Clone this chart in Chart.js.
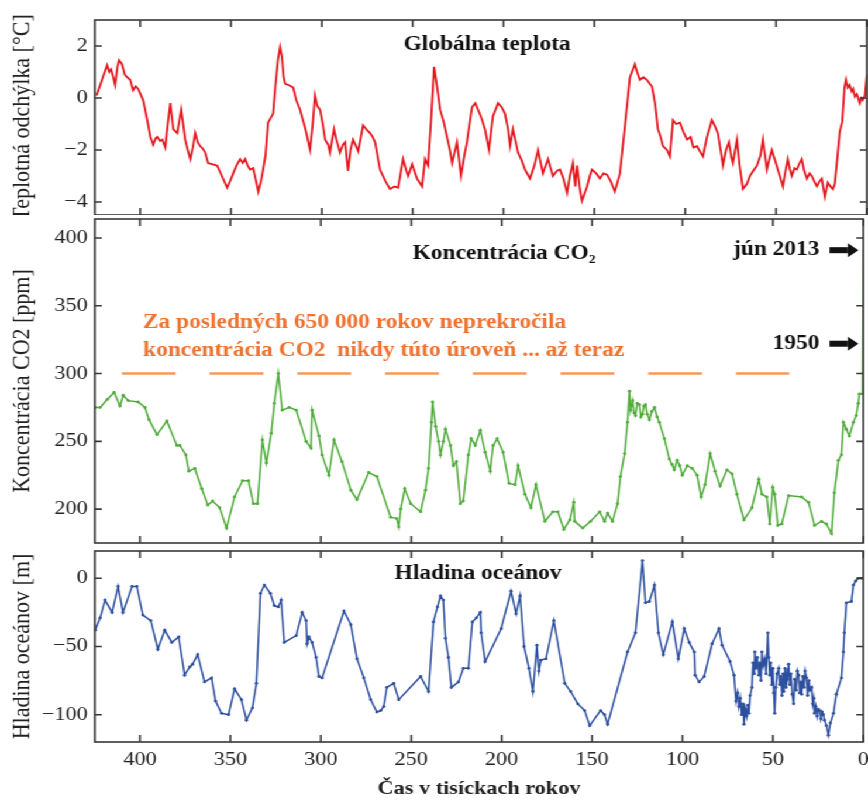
<!DOCTYPE html>
<html lang="sk">
<head>
<meta charset="utf-8">
<title>Teplota, CO2 a hladina oceánov</title>
<script src="https://cdn.jsdelivr.net/npm/chart.js@4.4.1/dist/chart.umd.min.js"></script>
<style>
  html, body { margin: 0; padding: 0; background: #fff; overflow: hidden; }
  /* the source picture is stretched sideways, so draw narrow and widen */
  #wrap { position: absolute; left: 0; top: 0; width: 742px; height: 801px;
          transform: scaleX(1.1698); transform-origin: 0 0; }
  #wrap canvas { position: absolute; left: 0; }
</style>
</head>
<body>
<div id="wrap">
  <canvas id="temp" width="742" height="215" style="top:0"></canvas>
  <canvas id="co2" width="742" height="332" style="top:215px"></canvas>
  <canvas id="sea" width="742" height="254" style="top:547px"></canvas>
</div>
<script>
const timeTicks = [400, 350, 300, 250, 200, 150, 100, 50, 0];
const tempTicks = [-4, -2, 0, 2];
const co2Ticks = [200, 250, 300, 350, 400];
const seaTicks = [-100, -50, 0];

// time in thousands of years before present
const tempKyr = [424, 422, 420, 418.2, 417, 416, 415, 413.8, 412.5, 411.6, 410, 408.5, 407.2, 405.5, 403.9, 402.5, 401.1, 399.5, 398.3, 396.1,
  394.4, 392.8, 391.5, 390.6, 389, 387.8, 386.2, 384.8, 383.4, 381.8, 379.6, 377.4, 375.2, 373.8, 372.4, 371, 369.7, 368.3, 367, 365.5,
  364.2, 362.6, 360, 357.6, 355, 352.1, 350.5, 348.8, 347, 345, 343.5, 342.2, 340.8, 339.5, 337.8, 336.5, 335, 333.5, 332.3, 331,
  329.6, 326.8, 325.5, 324.1, 323, 322, 321, 320.2, 318.5, 317, 315.8, 314, 312, 309, 306.5, 305, 303.8, 302.5, 301, 299.5,
  298.2, 296.5, 295.5, 293.3, 292, 290, 288.5, 287.2, 285.6, 284.2, 282.8, 281.5, 280, 278.5, 277.3, 275.5, 273.5, 272, 270.7, 268,
  265, 262.5, 260, 258, 255.3, 253.5, 252.5, 250.3, 247.6, 244.8, 243.2, 241.5, 240, 238.2, 236.5, 234.9, 233, 231.1, 229.5, 228.3,
  225.6, 223.4, 221.5, 220.1, 218.5, 217.3, 215.5, 214, 212, 210.2, 208, 205.8, 203, 201, 199.2, 197.5, 196.4, 194.8, 192, 190,
  188.2, 185.4, 183, 181, 179.5, 178.3, 175.5, 172.8, 170.5, 168.9, 167, 165, 163.5, 161.8, 160.5, 159.5, 158, 156.8, 155.5, 154,
  152.5, 151.3, 149, 146.9, 145, 143, 141, 138.7, 135.9, 133.2, 130.4, 127.7, 126, 124.9, 123, 121.1, 119.5, 118.3, 116.6, 115,
  113.5, 112.2, 110, 108.4, 106.7, 105, 102.9, 101, 99, 97, 95.5, 93.5, 91.5, 90.2, 88, 85.3, 83.5, 82, 80.5, 79.2,
  77.5, 75.9, 74.5, 73.7, 71.5, 70, 68.2, 66, 64.4, 62.5, 60.5, 58.5, 57.2, 55, 53.5, 52.3, 50.5, 49, 47.5, 46.2,
  45, 43.5, 42.5, 41.3, 39.8, 38.5, 37, 35.8, 34.5, 33, 31.5, 30.3, 29, 27.5, 26, 24.8, 23.1, 21.5, 20, 18.7,
  17.6, 16.5, 14.9, 13.5, 12.3, 11.5, 10.5, 9.5, 8.3, 7.5, 6.6, 5.5, 3.9, 3, 2.2, 1, 0];
const tempC = [0.1, 0.5, 0.9, 1.26, 1.0, 1.1, 0.85, 0.5, 1.2, 1.45, 1.3, 0.9, 0.8, 0.7, 0.3, 0.45, 0.35, 0.1, -0.1, -0.85,
  -1.5, -1.8, -1.55, -1.5, -1.65, -1.6, -1.9, -1.0, -0.2, -1.2, -1.35, -0.45, -1.6, -2.0, -2.35, -1.9, -1.35, -1.7, -1.85, -1.95,
  -2.1, -2.5, -2.55, -2.6, -3.0, -3.45, -3.2, -2.9, -2.6, -2.35, -2.5, -2.35, -2.6, -2.75, -2.7, -3.1, -3.6, -3.2, -2.75, -2.2,
  -0.95, -0.6, 0.5, 1.5, 1.95, 1.6, 0.8, 0.55, 0.5, 0.45, 0.4, -0.1, -0.45, -1.2, -2.0, -1.0, 0.1, -0.3, -0.45, -1.0,
  -1.6, -1.8, -2.1, -1.2, -1.6, -2.1, -1.8, -1.7, -2.8, -2.0, -1.6, -1.8, -2.05, -1.5, -1.05, -1.2, -1.35, -1.5, -1.7, -2.75,
  -3.2, -3.5, -3.4, -3.45, -2.35, -2.8, -3.0, -2.55, -3.1, -3.4, -2.35, -2.6, -1.0, 1.2, 0.4, -0.45, -0.9, -1.5, -2.0, -2.5,
  -1.7, -3.0, -2.2, -1.7, -0.9, -0.35, -0.2, -0.45, -0.8, -1.2, -2.0, -0.7, -0.2, -0.35, -0.6, -1.2, -1.85, -1.2, -2.1, -2.4,
  -2.75, -3.1, -2.6, -2.0, -2.5, -2.9, -2.35, -3.0, -2.8, -2.75, -3.1, -3.65, -3.0, -2.5, -3.4, -2.6, -3.5, -3.95, -3.7, -3.4,
  -3.0, -2.75, -2.9, -3.1, -2.9, -2.95, -3.2, -3.6, -2.9, -1.1, 0.8, 1.3, 0.9, 0.7, 0.8, 0.7, 0.55, 0.45, -0.2, -1.2,
  -1.5, -1.85, -2.0, -2.25, -0.85, -1.0, -0.95, -1.3, -1.6, -1.5, -1.9, -1.85, -2.1, -2.25, -1.5, -0.85, -1.1, -1.35, -2.0, -2.6,
  -2.0, -1.7, -2.3, -2.5, -1.6, -2.6, -3.5, -3.3, -3.0, -2.8, -2.6, -2.2, -1.6, -2.75, -2.3, -2.0, -2.4, -2.75, -3.1, -3.4,
  -2.9, -2.35, -2.7, -3.0, -2.7, -2.75, -2.5, -2.35, -2.8, -3.1, -2.9, -3.0, -3.2, -3.4, -3.2, -3.1, -3.8, -3.25, -3.4, -3.5,
  -3.3, -2.5, -1.3, -0.9, 0.4, 0.7, 0.4, 0.5, 0.25, 0.35, 0.05, 0.15, -0.2, 0.0, -0.08, 0.1, 0.88];

const co2Kyr = [424.8, 422, 418, 414.3, 411, 409.3, 406.5, 401, 397.2, 395, 390.6, 385.1, 379.6, 377.9, 374.6, 373, 369.7, 365.8, 362.5, 359.8,
  355.9, 352.1, 347.7, 343.3, 340, 337.3, 335, 332.3, 330.1, 327.4, 325.7, 323.5, 321.3, 317.5, 313.6, 308.1, 305.4, 304.8, 301, 299.3,
  295.5, 292.7, 288.3, 283.4, 280, 273.5, 269, 261.4, 258, 256.9, 255.8, 253.6, 250.3, 244.8, 242.1, 240.4, 238.8, 238.2, 236.5, 234.9,
  233.8, 232.2, 231.1, 228.3, 226.7, 225, 222.8, 221.2, 218.4, 216.8, 214.6, 211.8, 209.1, 206.3, 204.7, 202.5, 199.2, 195.9, 192.6, 190.9,
  187.1, 183.8, 181, 176.1, 171.7, 168.9, 165.6, 162.3, 160.1, 159.6, 155.2, 150.8, 145.8, 143.1, 141.4, 138.7, 135.9, 134.3, 132, 130.4,
  129.3, 128.7, 127.6, 126.8, 126, 125, 123.8, 123, 122.1, 121.3, 120.5, 119.5, 118.3, 117, 115.5, 114, 112.8, 110, 107.3, 105.8,
  104.5, 102.9, 101.5, 100.1, 97.4, 94.6, 91.9, 89.7, 87.5, 84.7, 82, 79.2, 75.4, 72.6, 69.9, 66, 61.6, 57.8, 56.1, 53.4,
  51.7, 50.1, 49, 47.3, 45.1, 41.3, 34.1, 30.3, 27, 23.1, 20.4, 17.6, 16, 13.8, 12.1, 11, 9.4, 7.7, 5.5, 3.9,
  2.8, 2.2, 0.4, 0];
const co2Ppm = [275, 275, 281, 286, 276, 284, 280, 279, 275, 266, 255, 265, 247, 247, 240, 228, 230, 215, 203, 206,
  201, 186, 209, 221, 221, 204, 204, 251, 234, 256, 278, 300, 273, 275, 273, 250, 245, 273, 254, 240,
  225, 251, 235, 214, 207, 227, 224, 194, 193, 187, 200, 215, 204, 198, 214, 230, 264, 279, 261, 250,
  240, 250, 259, 247, 232, 235, 204, 206, 240, 252, 247, 258, 242, 228, 247, 252, 242, 219, 218, 232,
  211, 201, 218, 191, 198, 198, 185, 192, 205, 191, 186, 191, 198, 191, 197, 191, 204, 224, 241, 264,
  287, 273, 280, 271, 269, 278, 277, 268, 270, 276, 277, 270, 266, 272, 275, 268, 264, 252, 237, 233,
  229, 236, 232, 225, 232, 230, 225, 209, 218, 241, 228, 217, 229, 226, 211, 192, 201, 222, 211, 209,
  189, 216, 211, 188, 189, 210, 209, 205, 188, 191, 189, 182, 212, 236, 240, 264, 259, 254, 264, 269,
  278, 285, 285, 391];

const seaKyr = [424.8, 422, 419.3, 415.4, 412.1, 409.4, 404.4, 401.7, 398.4, 394, 390.1, 386.3, 382.4, 378.6, 375.3, 372.5, 370.9, 368.1, 364.3, 360.4,
  358.2, 354.9, 351, 347.7, 343.9, 341.1, 337.8, 335.6, 333.4, 331.2, 327.9, 325.7, 323.5, 321.9, 320.2, 313.6, 310.3, 308.1, 307.6, 306.5,
  304.8, 302.6, 301, 299.3, 287.2, 283.4, 280, 276.2, 272.4, 269, 266.9, 265.2, 263.5, 259.7, 256.9, 244.8, 240.4, 237.7, 235.5, 233.8,
  232.2, 231.1, 229.4, 227.8, 223.9, 221.2, 218.4, 216.2, 214, 211.8, 211.3, 209.1, 200.3, 194.8, 192, 189.8, 187.6, 184.9, 182.7, 180.5,
  179.4, 178.3, 175.5, 171.1, 165.1, 161.8, 157.9, 154.1, 151.3, 145.3, 143.1, 141.4, 130.4, 126, 122.1, 120.5, 118.3, 115.5, 113.3, 110.6,
  105.6, 102.3, 99, 96.3, 93.5, 93, 90.8, 88, 83.6, 79.8, 78.1, 73.7, 71.5, 70.4, 69.5, 68.8, 68, 67.3, 66.5, 66,
  65.2, 64.5, 63.8, 63.3, 62.6, 61.6, 61, 60.3, 60, 59.3, 58.6, 57.8, 57.2, 56.6, 56.1, 55.4, 54.5, 53.8, 52.8, 52.3,
  51.7, 51.2, 50.6, 50, 49.5, 49, 48.4, 47.7, 46.8, 46.2, 45.6, 45, 44.4, 44, 43.3, 42.7, 42, 41.3, 40.6, 40,
  39.3, 38.5, 37.9, 37.2, 36.5, 35.8, 35.2, 34.6, 34.1, 33.4, 32.8, 32.2, 31.4, 30.8, 30.1, 29.5, 28.6, 28, 27.4, 27,
  26.3, 25.6, 24.9, 24.2, 23.5, 22.8, 22.1, 21.5, 20.4, 19.3, 18.2, 16.5, 14.9, 12.1, 11, 10.5, 9.4, 6.6, 5.5, 4.2,
  2.8, 1.2, 0];
const seaM = [-38, -29, -16, -25, -6, -25, -6, -6, -27, -31, -52, -38, -47, -43, -71, -65, -63, -56, -76, -73,
  -90, -99, -100, -81, -89, -104, -95, -77, -11, -5, -11, -20, -21, -16, -47, -42, -25, -31, -48, -43,
  -47, -58, -72, -73, -24, -34, -59, -73, -89, -98, -97, -94, -80, -77, -89, -72, -83, -32, -21, -13,
  -16, -44, -58, -80, -76, -66, -66, -32, -29, -25, -40, -61, -37, -9.5, -26, -13, -50, -66, -83, -49,
  -68, -60, -59, -31, -77, -83, -92, -97, -108, -97, -100, -107, -54, -40, 13, -18, -17, -5, -40, -56,
  -32, -59, -37, -47, -54, -71, -76, -72, -48, -37, -49, -61, -71, -90, -84, -94, -88, -100, -92, -107,
  -96, -101, -93, -99, -86, -80, -62, -70, -54, -66, -58, -71, -62, -75, -54, -64, -59, -70, -40, -58,
  -71, -62, -78, -66, -84, -99, -80, -70, -66, -78, -72, -86, -70, -83, -66, -80, -74, -63, -78, -70,
  -85, -92, -74, -82, -68, -71, -84, -76, -85, -72, -80, -68, -73, -86, -75, -82, -80, -92, -88, -99,
  -94, -101, -96, -97, -103, -98, -100, -104, -108, -115, -106, -99, -85, -73, -54, -40, -18, -17, -5, -2,
  0, 0, 0];

// orange reference line: CO2 stayed below 300 ppm before today
const limitKyr = [410, 41];
const limitPpm = [300, 300];

const markLabels = ['jún 2013', '1950'];
const markPpm = [391, 322];

const serif = "'Liberation Serif', 'Times New Roman', serif";
const ink = '#222';
const Y_W = 81;     // width of the y axis box (canvas px)
const X_H = 59;     // height of the bottom x axis box

Chart.defaults.font.family = serif;
Chart.defaults.color = ink;
Chart.defaults.animation = false;

const pts = (xs, ys) => xs.map((x, i) => ({x: x, y: ys[i]}));
const tickFont = { family: serif, size: 19 };

// box around the plot with inward tick marks on every side
const framePlugin = {
  id: 'frame',
  afterDatasetsDraw(chart) {
    const {ctx, chartArea: a, scales: {x, y}} = chart;
    ctx.save();
    ctx.strokeStyle = '#383838';
    ctx.lineWidth = 1.6;
    ctx.strokeRect(a.left, a.top, a.right - a.left, a.bottom - a.top);
    ctx.beginPath();
    timeTicks.forEach(v => {
      const px = x.getPixelForValue(v);
      ctx.moveTo(px, a.top); ctx.lineTo(px, a.top + 7);
      ctx.moveTo(px, a.bottom); ctx.lineTo(px, a.bottom - 7);
    });
    y.ticks.forEach(t => {
      const py = y.getPixelForValue(t.value);
      ctx.moveTo(a.left, py); ctx.lineTo(a.left + 6, py);
      ctx.moveTo(a.right, py); ctx.lineTo(a.right - 6, py);
    });
    ctx.stroke();
    ctx.restore();
  }
};

// panel titles, notes and arrows, placed in data units
const notesPlugin = {
  id: 'notes',
  afterDraw(chart, args, opts) {
    const {ctx, scales: {x, y}} = chart;
    (opts.items || []).forEach(n => {
      ctx.save();
      ctx.font = n.font;
      ctx.fillStyle = n.color || '#111';
      ctx.textAlign = n.align || 'center';
      ctx.textBaseline = 'middle';
      ctx.fillText(n.text, x.getPixelForValue(n.x), y.getPixelForValue(n.y));
      ctx.restore();
    });
    (opts.arrows || []).forEach(r => {
      const x0 = x.getPixelForValue(r.from), x1 = x.getPixelForValue(r.to);
      const py = y.getPixelForValue(r.y);
      const head = 9;
      ctx.save();
      ctx.fillStyle = '#111';
      ctx.fillRect(x0, py - 3, x1 - head - x0, 6);
      ctx.beginPath();
      ctx.moveTo(x1, py);
      ctx.lineTo(x1 - head, py - 7);
      ctx.lineTo(x1 - head, py + 7);
      ctx.closePath();
      ctx.fill();
      ctx.restore();
    });
  }
};

function xAxis(show) {
  return {
    type: 'linear', min: 0, max: 425, reverse: true, display: show,
    grid: { display: false, drawTicks: false },
    border: { display: false },
    afterBuildTicks: s => { s.ticks = timeTicks.map(v => ({value: v})); },
    afterFit: s => { s.paddingLeft = 0; s.paddingRight = 0; if (show) s.height = X_H; },
    ticks: { font: tickFont, color: ink, padding: 7, maxRotation: 0, autoSkip: false,
             callback: v => String(v) },
    title: { display: show, text: 'Čas v tisíckach rokov', color: ink,
             font: { family: serif, size: 19, weight: 'bold' }, padding: { top: 0, bottom: 1 } }
  };
}

function yAxis(min, max, tickVals, title) {
  return {
    type: 'linear', min: min, max: max,
    grid: { display: false, drawTicks: false },
    border: { display: false },
    afterBuildTicks: s => { s.ticks = tickVals.map(v => ({value: v})); },
    afterFit: s => { s.width = Y_W; s.paddingTop = 0; s.paddingBottom = 0; },
    ticks: { font: tickFont, color: ink, padding: 6,
             callback: v => String(v).replace('-', '\u2212') },
    title: { display: true, text: title, color: ink, font: { family: serif, size: 22 }, padding: { top: 6 } }
  };
}

function baseOptions(padTop, xShow, y, notes) {
  return {
    responsive: false,
    animation: false,
    layout: { padding: { top: padTop, right: 1, bottom: 0, left: 0 } },
    scales: { x: xAxis(xShow), y: y },
    plugins: { legend: { display: false }, tooltip: { enabled: false }, notes: notes }
  };
}

const titleFont = 'bold 20px ' + serif;

new Chart(document.getElementById('temp'), {
  type: 'line',
  data: {
    datasets: [{
      data: pts(tempKyr, tempC),
      borderColor: '#e5161e', borderWidth: 1.8, pointRadius: 0, tension: 0
    }]
  },
  options: baseOptions(20, false, yAxis(-4.5, 3, tempTicks, 'Teplotná odchýlka [°C]'), {
    items: [{ text: 'Globálna teplota', x: 209, y: 2.06, font: titleFont }]
  }),
  plugins: [framePlugin, notesPlugin]
});

const co2Count = co2Kyr.length;
new Chart(document.getElementById('co2'), {
  type: 'line',
  data: {
    datasets: [{
      data: pts(co2Kyr, co2Ppm),
      borderColor: '#4fab3a', backgroundColor: '#4fab3a', borderWidth: 1.5, tension: 0,
      pointRadius: c => (c.dataIndex >= co2Count - 1 ? 0 : 1.4), pointBorderWidth: 0
    }, {
      data: pts(limitKyr, limitPpm),
      borderColor: '#f59a55', borderWidth: 2.6, borderDash: [46, 29], pointRadius: 0
    }]
  },
  options: baseOptions(0, false, yAxis(175, 414, co2Ticks, 'Koncentrácia CO2 [ppm]'), {
    items: [
      { text: 'Koncentrácia CO\u2082', x: 198.6, y: 388.5, font: titleFont },
      { text: 'Za posledných 650 000 rokov neprekročila', x: 398.3, y: 337.5, align: 'left',
        font: titleFont, color: '#ee7331' },
      { text: 'koncentrácia CO2  nikdy túto úroveň ... až teraz', x: 398.3, y: 316.5, align: 'left',
        font: titleFont, color: '#ee7331' },
      { text: markLabels[0], x: 24.2, y: markPpm[0], align: 'right', font: titleFont },
      { text: markLabels[1], x: 24.2, y: markPpm[1], align: 'right', font: titleFont }
    ],
    arrows: [
      { from: 18.7, to: 2.7, y: markPpm[0] },
      { from: 18.7, to: 2.7, y: markPpm[1] }
    ]
  }),
  plugins: [framePlugin, notesPlugin]
});

new Chart(document.getElementById('sea'), {
  type: 'line',
  data: {
    datasets: [{
      data: pts(seaKyr, seaM),
      borderColor: '#2d4f9f', backgroundColor: '#2d4f9f', borderWidth: 1.5, tension: 0,
      pointRadius: 1.4, pointBorderWidth: 0
    }]
  },
  options: baseOptions(0, true, yAxis(-120, 20, seaTicks, 'Hladina oceánov [m]'), {
    items: [{ text: 'Hladina oceánov', x: 213, y: 3.6, font: titleFont }]
  }),
  plugins: [framePlugin, notesPlugin]
});
</script>
</body>
</html>
